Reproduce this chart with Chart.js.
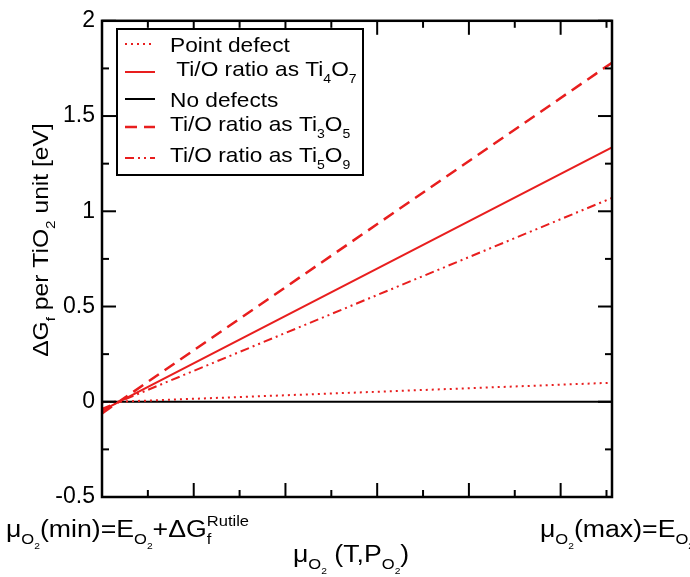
<!DOCTYPE html>
<html>
<head>
<meta charset="utf-8">
<script src="https://cdn.jsdelivr.net/npm/chart.js@4"></script>
<style>html,body{margin:0;padding:0;background:#fff}</style>
</head>
<body>
<canvas id="mychart" width="690" height="577"></canvas>
<script>
// mu_O2 axis runs from min to max, no numeric labels in the figure
const xEnds=[0,5.56];
const xMajor=[1,2,3,4,5];
const xMinor=[0.5,1.5,2.5,3.5,4.5,5.5];
const yMinor=[-0.25,0.25,0.75,1.25,1.75];
const yMajor=[-0.5,0,0.5,1,1.5,2];

const seriesLabels=['Point defect',' Ti/O ratio as Ti_{4}O_{7}','No defects','Ti/O ratio as Ti_{3}O_{5}','Ti/O ratio as Ti_{5}O_{9}'];
const pointDefect=[-0.003,0.10];
const ti4o7=[-0.046,1.336];
const noDefects=[0,0];
const ti3o5=[-0.061,1.78];
const ti5o9=[-0.037,1.07];

const yTitle='\u0394G_{f} per TiO_{2} unit [eV]';
const xTitle='\u03bc_{O_{2}} (T,P_{O_{2}})';
const xMinLabel='\u03bc_{O_{2}}(min)=E_{O_{2}}+\u0394G_{f}^{Rutile}';
const xMaxLabel='\u03bc_{O_{2}}(max)=E_{O_{2}}';

const FONT='"Liberation Sans", Arial, sans-serif';
const RED='rgb(232,30,30)';

function pts(vals){ return vals.map((v,i)=>({x:xEnds[i],y:v})); }

// draws text with _{sub} and ^{sup}, returns width
function drawRich(ctx,str,x,y,size,draw){
  let cx=x,i=0,buf='',lastSubX=cx,prevSub=false;
  const flush=()=>{
    if(!buf) return;
    ctx.font=size+'px '+FONT;
    if(draw) ctx.fillText(buf,cx,y);
    cx+=ctx.measureText(buf).width;
    buf=''; prevSub=false;
  };
  while(i<str.length){
    const c=str[i];
    if((c==='_'||c==='^')&&str[i+1]==='{'){
      flush();
      let d=1,j=i+2;
      while(j<str.length){ if(str[j]==='{')d++; else if(str[j]==='}'){d--; if(d===0)break;} j++; }
      const inner=str.slice(i+2,j), s=size*0.62;
      if(c==='_'){
        lastSubX=cx;
        cx+=drawRich(ctx,inner,cx,y+size*0.32,s,draw);
        prevSub=true;
      }else{
        const sx=prevSub?lastSubX:cx;
        const w=drawRich(ctx,inner,sx,y-size*0.5,s,draw);
        cx=Math.max(cx,sx+w);
        prevSub=false;
      }
      i=j+1;
    }else{ buf+=c; i++; }
  }
  flush();
  return cx-x;
}

// wider text, like the original's font
function label(ctx,str,x,y,size,stretch,rot){
  ctx.save();
  ctx.translate(x,y);
  if(rot) ctx.rotate(rot);
  ctx.scale(stretch,1);
  const w=drawRich(ctx,str,0,0,size,false);
  drawRich(ctx,str,rot?-w/2:0,0,size,true);
  ctx.restore();
}

const decor={
  id:'decor',
  afterDatasetsDraw(chart){
    const {ctx,chartArea:a,scales:{x,y}}=chart;
    ctx.save();
    ctx.strokeStyle='#000';
    ctx.fillStyle='#000';
    // inward ticks
    ctx.lineWidth=2;
    const tick=(x1,y1,x2,y2)=>{ctx.beginPath();ctx.moveTo(x1,y1);ctx.lineTo(x2,y2);ctx.stroke();};
    xMajor.forEach(v=>{const p=x.getPixelForValue(v); tick(p,a.bottom,p,a.bottom-14); tick(p,a.top,p,a.top+14);});
    xMinor.forEach(v=>{const p=x.getPixelForValue(v); tick(p,a.bottom,p,a.bottom-7); tick(p,a.top,p,a.top+7);});
    yMajor.forEach(v=>{const p=y.getPixelForValue(v); tick(a.left,p,a.left+14,p); tick(a.right,p,a.right-14,p);});
    yMinor.forEach(v=>{const p=y.getPixelForValue(v); tick(a.left,p,a.left+7,p); tick(a.right,p,a.right-7,p);});
    // frame
    ctx.lineWidth=2.5;
    ctx.strokeRect(a.left,a.top,a.right-a.left,a.bottom-a.top);

    // legend
    ctx.fillStyle='#fff';
    ctx.fillRect(117,29,246,146);
    ctx.lineWidth=2;
    ctx.strokeRect(117,29,246,146);
    let base=52;
    chart.data.datasets.forEach((ds,i)=>{
      const lab=seriesLabels[i], hasSub=lab.indexOf('_{')>=0;
      const ly=base-(hasSub?4:8);
      ctx.save();
      ctx.strokeStyle=ds.borderColor;
      ctx.lineWidth=ds.borderWidth;
      ctx.setLineDash(ds.borderDash||[]);
      ctx.beginPath();ctx.moveTo(125,ly);ctx.lineTo(155,ly);ctx.stroke();
      ctx.restore();
      ctx.fillStyle='#000';
      label(ctx,lab,170,base,21,1.08);
      base+=24+(hasSub?7:0);
    });

    // axis titles
    ctx.fillStyle='#000';
    label(ctx,xMinLabel,6,537,23,1.16);
    label(ctx,xMaxLabel,540,537,23,1.16);
    label(ctx,xTitle,293,562,23,1.16);
    label(ctx,yTitle,48,240,22,1.12,-Math.PI/2);
    ctx.restore();
  }
};

const canvas=document.getElementById('mychart');
const config={
  type:'scatter',
  data:{
    datasets:[
      {label:seriesLabels[0],data:pts(pointDefect),borderColor:RED,borderWidth:2,borderDash:[2,4],order:1},
      {label:seriesLabels[1],data:pts(ti4o7),borderColor:RED,borderWidth:2,order:1},
      {label:seriesLabels[2],data:pts(noDefects),borderColor:'#000',borderWidth:2,order:2},
      {label:seriesLabels[3],data:pts(ti3o5),borderColor:RED,borderWidth:2.5,borderDash:[12,7],order:1},
      {label:seriesLabels[4],data:pts(ti5o9),borderColor:RED,borderWidth:2,borderDash:[9,4,2,4,2,4],order:1}
    ].map(d=>Object.assign(d,{showLine:true,pointRadius:0,tension:0,fill:false}))
  },
  options:{
    responsive:false,
    animation:false,
    layout:{padding:{top:15,right:78,bottom:80,left:0}},
    plugins:{legend:{display:false},tooltip:{enabled:false}},
    scales:{
      x:{type:'linear',display:false,min:xEnds[0],max:xEnds[1]},
      y:{
        min:-0.5,max:2,
        afterFit:(s)=>{s.width=102;},
        grid:{display:false,drawTicks:false},
        border:{display:false},
        ticks:{stepSize:0.5,padding:7,color:'#000',font:{family:FONT,size:23},callback:(v)=>String(v)}
      }
    }
  },
  plugins:[decor]
};
new Chart(canvas,config);
</script>
</body>
</html>
